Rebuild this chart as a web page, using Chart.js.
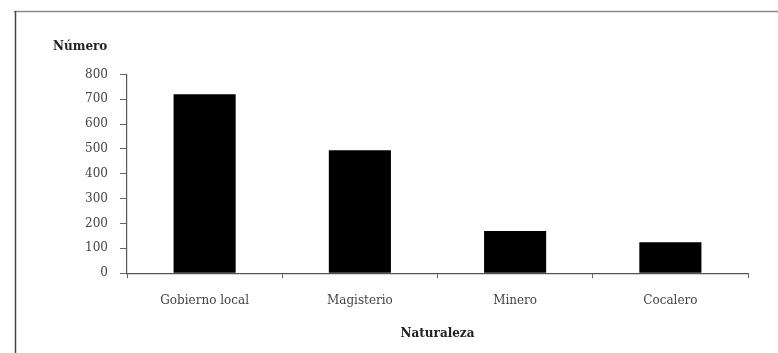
<!DOCTYPE html>
<html>
<head>
<meta charset="utf-8">
<script src="https://cdn.jsdelivr.net/npm/chart.js@4/dist/chart.umd.min.js"></script>
<style>
html,body{margin:0;padding:0;background:#fff;}
canvas{display:block;}
</style>
</head>
<body>
<canvas id="c" width="778" height="353"></canvas>
<script>
const categories = ["Gobierno local", "Magisterio", "Minero", "Cocalero"];
const values = [720, 495, 170, 125];
const yTitle = "Número";
const xTitle = "Naturaleza";

const frame = {
  id: 'frame',
  afterDraw(chart) {
    const ctx = chart.ctx;
    ctx.save();
    ctx.strokeStyle = '#8a8a8a';
    ctx.lineWidth = 1.5;
    ctx.beginPath();
    ctx.moveTo(14, 11.5); ctx.lineTo(778, 11.5);
    ctx.stroke();
    ctx.strokeStyle = '#444';
    ctx.lineWidth = 1.5;
    ctx.beginPath();
    ctx.moveTo(15.5, 11); ctx.lineTo(15.5, 353);
    ctx.stroke();
    ctx.restore();
  }
};

const serif = "'DejaVu Serif', 'Liberation Serif', serif";

new Chart(document.getElementById('c'), {
  type: 'bar',
  data: {
    labels: categories,
    datasets: [{
      data: values,
      backgroundColor: '#000',
      borderWidth: 0,
      barPercentage: 0.4,
      categoryPercentage: 1.0
    }]
  },
  options: {
    responsive: false,
    animation: false,
    layout: { padding: { left: 53, right: 30, top: 40, bottom: 8 } },
    plugins: {
      legend: { display: false },
      tooltip: { enabled: false },
      title: {
        display: true,
        text: yTitle,
        align: 'start',
        color: '#222',
        font: { family: serif, size: 12, weight: 'bold' },
        padding: { top: 0, bottom: 20 }
      }
    },
    scales: {
      x: {
        grid: { display: true, drawOnChartArea: false, offset: true, tickLength: 5, color: '#666' },
        border: { display: true, color: '#555', width: 1.2 },
        ticks: { color: '#444', font: { family: serif, size: 12 }, padding: 15, maxRotation: 0 },
        title: {
          display: true, text: xTitle, color: '#222',
          font: { family: serif, size: 12, weight: 'bold' },
          padding: { top: 4, bottom: 4 }
        }
      },
      y: {
        min: 0, max: 800,
        afterFit(scale) { scale.width = 74; },
        grid: { display: true, drawOnChartArea: false, tickLength: 7, color: '#666' },
        border: { display: true, color: '#555', width: 1.2 },
        ticks: { stepSize: 100, color: '#444', font: { family: serif, size: 12 }, padding: 12 }
      }
    }
  },
  plugins: [frame]
});
</script>
</body>
</html>
